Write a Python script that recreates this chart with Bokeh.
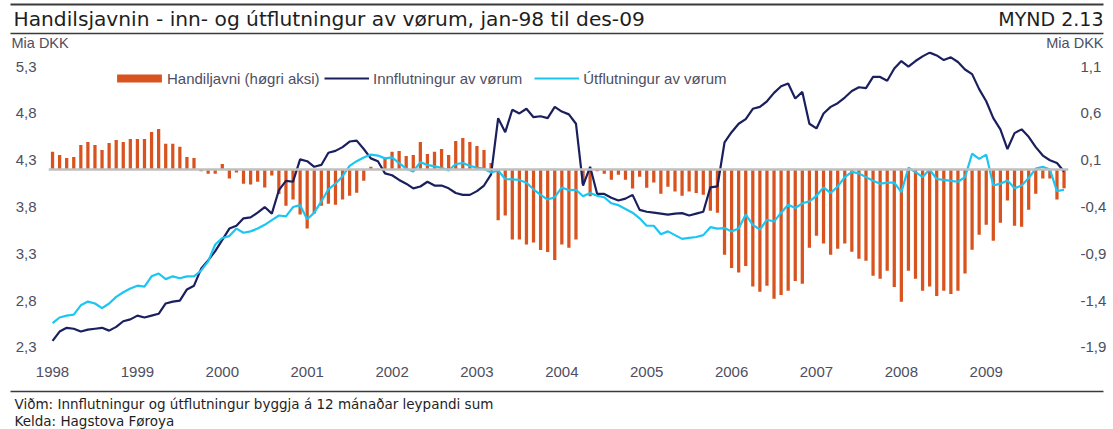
from bokeh.plotting import figure
from bokeh.models import (Range1d, LinearAxis, FixedTicker, CustomJSTickFormatter,
                          Span, Legend, LegendItem, ColumnDataSource)
from bokeh.layouts import column
from bokeh.embed import file_html
from bokeh.resources import INLINE
from bokeh.core.properties import value

# ---------------- data ----------------
title_text = "Handilsjavnin - inn- og útflutningur av vørum, jan-98 til des-09"
figure_no = "MYND 2.13"
unit_label = "Mia DKK"
note_text = "Viðm: Innflutningur og útflutningur byggja á 12 mánaðar leypandi sum"
source_text = "Kelda: Hagstova Føroya"
series_names = ["Handiljavni (høgri aksi)", "Innflutningur av vørum", "Útflutningur av vørum"]

years = ["1998", "1999", "2000", "2001", "2002", "2003",
         "2004", "2005", "2006", "2007", "2008", "2009"]

left_ticks = [2.3, 2.8, 3.3, 3.8, 4.3, 4.8, 5.3]
right_ticks = [-1.9, -1.4, -0.9, -0.4, 0.1, 0.6, 1.1]

# Trade balance, monthly (bn DKK, right axis)
balance = [
    0.19, 0.157, 0.125, 0.135, 0.264, 0.296, 0.264, 0.21, 0.285, 0.317, 0.296, 0.328,
    0.328, 0.328, 0.403, 0.435, 0.275, 0.275, 0.243, 0.135, 0.125, -0.018, -0.043, -0.043,
    0.06, -0.096, -0.032, -0.15, -0.16, -0.13, -0.19, -0.064, -0.26, -0.385, -0.32, -0.48,
    -0.63, -0.47, -0.385, -0.364, -0.375, -0.32, -0.28, -0.246, -0.118, 0.03, 0.01, 0.135,
    0.19, 0.2, 0.145, 0.156, 0.295, 0.167, 0.19, 0.22, 0.156, 0.306, 0.338, 0.295,
    0.253, 0.21, 0.07, -0.54, -0.49, -0.746, -0.746, -0.80, -0.78, -0.86, -0.88, -0.965,
    -0.80, -0.835, -0.746, -0.15, -0.285, -0.018, -0.043, -0.107, -0.054, -0.107, -0.203, -0.075,
    -0.193, -0.139, -0.257, -0.182, -0.235, -0.278, -0.235, -0.25, -0.268, -0.44, -0.46, -0.91,
    -1.05, -1.10, -1.03, -1.25, -1.306, -1.24, -1.38, -1.34, -1.295, -1.19, -1.22, -0.835,
    -0.707, -0.79, -0.91, -0.846, -0.79, -0.878, -0.953, -0.974, -1.135, -1.167, -1.08, -1.253,
    -1.413, -1.08, -1.167, -1.295, -1.25, -1.35, -1.295, -1.328, -1.295, -1.11, -0.857, -0.696,
    -0.589, -0.76, -0.567, -0.33, -0.6, -0.61, -0.428, -0.257, -0.096, -0.096, -0.32, -0.2,
]

# Imports, 12-month rolling sum (bn DKK, left axis)
imports = [
    2.37, 2.47, 2.51, 2.50, 2.47, 2.49, 2.50, 2.51, 2.48, 2.52, 2.58, 2.60,
    2.64, 2.62, 2.64, 2.66, 2.77, 2.79, 2.80, 2.92, 2.96, 3.14, 3.23, 3.33,
    3.45, 3.57, 3.60, 3.68, 3.69, 3.74, 3.80, 3.73, 3.98, 4.08, 4.07, 4.31,
    4.29, 4.23, 4.25, 4.38, 4.40, 4.44, 4.50, 4.51, 4.42, 4.32, 4.29, 4.16,
    4.14, 4.09, 4.05, 4.00, 4.02, 4.07, 4.03, 4.03, 4.00, 3.95, 3.93, 3.93,
    3.97, 4.03, 4.15, 4.75, 4.60, 4.84, 4.80, 4.85, 4.76, 4.77, 4.75, 4.87,
    4.82, 4.79, 4.69, 4.03, 4.23, 3.94, 3.94, 3.90, 3.87, 3.89, 3.93, 3.77,
    3.75, 3.74, 3.73, 3.72, 3.73, 3.735, 3.71, 3.73, 3.75, 4.01, 4.02, 4.49,
    4.60, 4.69, 4.74, 4.85, 4.87, 4.93, 5.02, 5.09, 5.12, 4.96, 5.03, 4.69,
    4.64, 4.80, 4.87, 4.91, 4.97, 5.04, 5.08, 5.07, 5.19, 5.19, 5.15, 5.28,
    5.36, 5.30, 5.36, 5.41, 5.45, 5.42, 5.37, 5.40, 5.35, 5.27, 5.22, 5.06,
    4.93, 4.75, 4.63, 4.42, 4.59, 4.63, 4.55, 4.44, 4.35, 4.30, 4.27, 4.18,
]

# Exports, 12-month rolling sum (bn DKK, left axis)
exports = [
    2.56, 2.62, 2.64, 2.65, 2.75, 2.79, 2.77, 2.72, 2.77, 2.84, 2.89, 2.93,
    2.96, 2.95, 3.06, 3.09, 3.03, 3.06, 3.04, 3.06, 3.06, 3.12, 3.22, 3.40,
    3.47, 3.49, 3.57, 3.525, 3.54, 3.57, 3.61, 3.66, 3.71, 3.70, 3.80, 3.82,
    3.67, 3.74, 3.86, 3.99, 4.05, 4.13, 4.24, 4.29, 4.33, 4.36, 4.35, 4.32,
    4.33, 4.27, 4.21, 4.18, 4.28, 4.25, 4.235, 4.22, 4.19, 4.26, 4.27, 4.24,
    4.22, 4.21, 4.17, 4.19, 4.10, 4.095, 4.09, 4.06, 3.99, 3.93, 3.88, 3.905,
    4.01, 3.98, 3.985, 3.915, 3.95, 3.92, 3.905, 3.84, 3.82, 3.78, 3.74, 3.68,
    3.60, 3.60, 3.51, 3.54, 3.50, 3.46, 3.47, 3.48, 3.50, 3.585, 3.57, 3.575,
    3.54, 3.57, 3.72, 3.61, 3.56, 3.665, 3.645, 3.74, 3.825, 3.79, 3.84, 3.86,
    3.92, 4.01, 3.95, 4.02, 4.12, 4.175, 4.16, 4.12, 4.08, 4.05, 4.06, 4.06,
    3.96, 4.22, 4.175, 4.12, 4.20, 4.10, 4.09, 4.08, 4.07, 4.12, 4.37, 4.315,
    4.36, 4.03, 4.05, 4.085, 4.00, 4.03, 4.11, 4.21, 4.23, 4.20, 3.97, 3.985,
]

months = list(range(len(balance)))

# ---------------- styles ----------------
W = 1113
BAR_C = "#D9531E"
NAVY = "#1B1F5E"
LBLUE = "#1CC6F2"
ZERO_C = "#BFBFBF"
TXT = "#4E4E62"
DARK = "#1E1E1E"
AX_FONT = "Liberation Sans"
AX_SIZE = "15px"
HD_FONT = "DejaVu Sans"

src = ColumnDataSource(dict(m=months, bal=balance, imp=imports, exp=exports))

# ---------------- header ----------------
HDR_H = 51
hdr = figure(width=W, height=HDR_H, x_range=Range1d(0, W), y_range=Range1d(HDR_H, 0),
             output_backend="svg", toolbar_location=None, min_border=0,
             x_axis_type=None, y_axis_type=None, outline_line_color=None, title=None)
hdr.frame_align = False
hdr.grid.visible = False
hdr.segment(x0=[10, 10], y0=[4, 33], x1=[1103, 1103], y1=[4, 33],
            line_color="#3A3A3A", line_width=[2, 1.5])
hdr.text(x=[13], y=[18], text=[title_text], text_font=value(HD_FONT), text_font_size="20.2px",
         text_baseline="middle", text_align="left", text_color=DARK)
hdr.text(x=[1103], y=[18], text=[figure_no], text_font=value(HD_FONT), text_font_size="19px",
         text_baseline="middle", text_align="right", text_color=DARK)
hdr.text(x=[11], y=[42], text=[unit_label], text_font=value(AX_FONT), text_font_size="14.5px",
         text_baseline="middle", text_align="left", text_color=TXT)
hdr.text(x=[1103], y=[42], text=[unit_label], text_font=value(AX_FONT), text_font_size="14.5px",
         text_baseline="middle", text_align="right", text_color=TXT)

# ---------------- main chart ----------------
p = figure(width=W, height=332, output_backend="svg", toolbar_location=None, title=None,
           x_range=Range1d(-0.57, 143.63), y_range=Range1d(2.2995, 5.4619),
           min_border_left=48, min_border_right=45, min_border_top=0, min_border_bottom=36,
           outline_line_color=None)
p.frame_align = False
p.grid.visible = False
p.extra_y_ranges = {"right": Range1d(-1.9005, 1.2619)}

bars = p.vbar(x="m", top="bal", bottom=0, width=0.46, source=src,
              fill_color=BAR_C, line_color=None, y_range_name="right")
p.add_layout(Span(location=0, dimension="width", y_range_name="right",
                  line_color=ZERO_C, line_width=2.5))
l_imp = p.line(x="m", y="imp", source=src, line_color=NAVY, line_width=2.2)
l_exp = p.line(x="m", y="exp", source=src, line_color=LBLUE, line_width=2.2)

fmt = CustomJSTickFormatter(code="return tick.toFixed(1).replace('.', ',');")

yax = p.yaxis[0]
yax.ticker = FixedTicker(ticks=left_ticks)
yax.formatter = fmt

rax = LinearAxis(y_range_name="right", ticker=FixedTicker(ticks=right_ticks), formatter=fmt)
p.add_layout(rax, "right")

xax = p.xaxis[0]
xax.ticker = FixedTicker(ticks=[12 * i for i in range(len(years))])
xax.major_label_overrides = {12 * i: y for i, y in enumerate(years)}

for ax in [yax, rax, xax]:
    ax.axis_line_color = None
    ax.major_tick_line_color = None
    ax.minor_tick_line_color = None
    ax.major_tick_out = 0
    ax.major_label_text_font = AX_FONT
    ax.major_label_text_font_size = AX_SIZE
    ax.major_label_text_color = TXT
yax.major_label_standoff = 12
rax.major_label_standoff = 12
xax.major_label_standoff = 19

leg_common = dict(orientation="horizontal", padding=0, margin=0,
                  border_line_color=None, background_fill_alpha=0, label_height=18,
                  label_text_font=AX_FONT, label_text_font_size=AX_SIZE, label_text_color=TXT)
leg_bar = Legend(items=[LegendItem(label=series_names[0], renderers=[bars])],
                 location=(63, 260), glyph_width=56, glyph_height=10, label_standoff=0,
                 spacing=8, **leg_common)
leg_lines = Legend(items=[LegendItem(label=series_names[1], renderers=[l_imp]),
                          LegendItem(label=series_names[2], renderers=[l_exp])],
                   location=(276, 260), glyph_width=45, glyph_height=10, label_standoff=4,
                   spacing=12, **leg_common)
p.add_layout(leg_bar)
p.add_layout(leg_lines)

# ---------------- footer ----------------
ftr = figure(width=W, height=46, x_range=Range1d(0, W), y_range=Range1d(46, 0),
             output_backend="svg", toolbar_location=None, min_border=0,
             x_axis_type=None, y_axis_type=None, outline_line_color=None, title=None)
ftr.frame_align = False
ftr.grid.visible = False
ftr.segment(x0=[10], y0=[8], x1=[1103], y1=[8], line_color="#3A3A3A", line_width=1.5)
ftr.text(x=[14], y=[20], text=[note_text], text_font=value(HD_FONT), text_font_size="13.5px",
         text_baseline="middle", text_color=DARK)
ftr.text(x=[14], y=[37], text=[source_text], text_font=value(HD_FONT), text_font_size="13.5px",
         text_baseline="middle", text_color=DARK)

layout = column(hdr, p, ftr, spacing=0)
open("out.html", "w").write(file_html(layout, INLINE))
